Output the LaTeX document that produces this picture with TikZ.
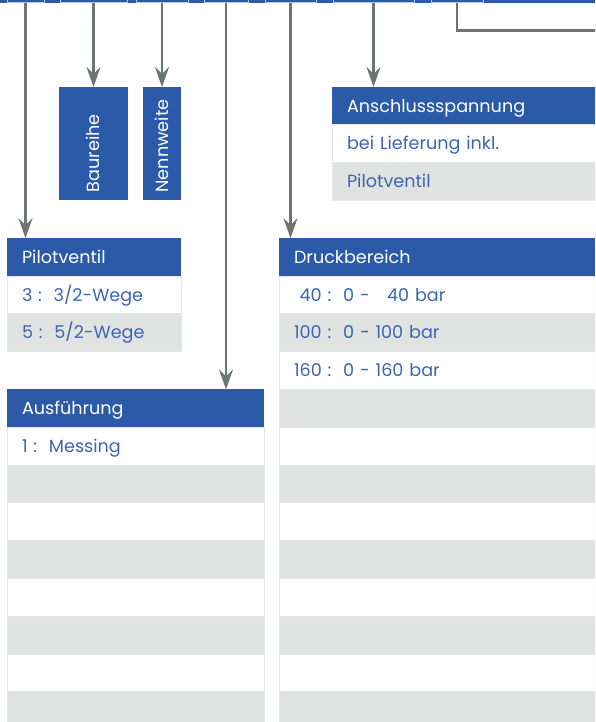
\documentclass[tikz,border=0pt]{standalone}
\usepackage{fontspec}
\setmainfont{Poppins}
\usepackage{tikz}
\usetikzlibrary{positioning, arrows.meta}
\definecolor{kblue}{HTML}{2A5AA8}
\definecolor{kgray}{HTML}{E1E2E2}
\definecolor{kline}{HTML}{6D7476}
\definecolor{ktext}{HTML}{3D66B0}
\definecolor{kedge}{HTML}{E6E7E7}

\begin{document}
\begin{tikzpicture}[x=1pt, y=-1pt,
    key/.style={fill=kblue, draw=white!65!kblue, line width=1pt, minimum height=14pt, inner sep=0pt, anchor=south},
    head/.style={fill=kblue, text=white, anchor=north west, minimum height=37.8pt, inner xsep=15pt, inner ysep=0pt, outer sep=0pt,
        text width=#1, align=left, text height=12.4pt, text depth=0pt, font=\fontsize{17.6}{19}\selectfont},
    row/.style={draw=kedge, line width=1pt, text=ktext, anchor=north west, minimum height=37.8pt, inner xsep=15pt, inner ysep=0pt,
        outer sep=0pt, text width=#1, align=left, text height=12.4pt, text depth=0pt, font=\fontsize{17.6}{19}\selectfont},
    vbox/.style={fill=kblue, text=white, rotate=90, inner xsep=8pt, inner ysep=0pt, outer sep=0pt, minimum height=#1,
        text width=97.4pt, align=left, text height=12.4pt, text depth=0pt, font=\fontsize{17.6}{19}\selectfont},
    conn/.style={draw=kline, line width=2.6pt, -{Stealth[length=20pt, width=14pt, inset=7pt]}},
]
    \useasboundingbox (0,0) rectangle (595,722);
    \clip (0,0) rectangle (595,722);

    % key strip
    \fill[kblue] (0,-5) rectangle (595,3.5);
    \node[key, minimum width=37pt] (k1) at (25.5,3) {};
    \node[key, minimum width=67pt] (k2) at (93.5,3) {};
    \node[key, minimum width=52pt] (k3) at (162,3) {};
    \node[key, minimum width=44pt] (k4) at (226,3) {};
    \node[key, minimum width=51pt] (k5) at (290.5,3) {};
    \node[key, minimum width=81pt] (k6) at (373.5,3) {};
    \node[key, minimum width=52pt] (k7) at (457,3) {};

    % Baureihe, Nennweite
    \node[vbox=69pt, minimum width=113.4pt] (bau) at (93.5,143.7) {Baureihe};
    \node[vbox=38pt, minimum width=113.4pt] (nen) at (162,143.7) {Nennweite};

    % Anschlussspannung
    \node[head=238pt] (an0) at (332,87) {Anschlussspannung};
    \node[row=238pt, fill=white] (an1) at (an0.south west) {bei Lieferung inkl.};
    \node[row=238pt, fill=kgray] (an2) at (an1.south west) {Pilotventil};

    % Pilotventil
    \node[head=144pt] (pil0) at (7,238.2) {Pilotventil};
    \node[row=144pt, fill=white] (pil1) at (pil0.south west) {3 :\ \ 3/2-Wege};
    \node[row=144pt, fill=kgray] (pil2) at (pil1.south west) {5 :\ \ 5/2-Wege};

    % Druckbereich
    \node[head=286pt] (dr0) at (279,238.2) {Druckbereich};
    \foreach \i/\c/\t [count=\j from 0] in {1/white/{\hphantom{1}40 :\ \ 0 -\ \ \hphantom{1}40 bar},
            2/kgray/{100 :\ \ 0 - 100 bar}, 3/white/{160 :\ \ 0 - 160 bar},
            4/kgray/{}, 5/white/{}, 6/kgray/{}, 7/white/{}, 8/kgray/{},
            9/white/{}, 10/kgray/{}, 11/white/{}, 12/kgray/{}}
        \node[row=286pt, fill=\c] (dr\i) at (dr\j.south west) {\t};

    % Ausfuehrung
    \node[head=227pt] (au0) at (7,389.4) {Ausführung};
    \foreach \i/\c/\t [count=\j from 0] in {1/white/{1 :\ \ Messing},
            2/kgray/{}, 3/white/{}, 4/kgray/{}, 5/white/{}, 6/kgray/{}, 7/white/{}, 8/kgray/{}}
        \node[row=227pt, fill=\c] (au\i) at (au\j.south west) {\t};

    % connectors
    \coordinate (k7end) at (600,30.5);
    \draw[conn] (k1.south) -- (k1.south |- pil0.north);
    \draw[conn] (k2.south) -- (k2.south |- bau.east);
    \draw[conn] (k3.south) -- (k3.south |- nen.east);
    \draw[conn] (k4.south) -- (k4.south |- au0.north);
    \draw[conn] (k5.south) -- (k5.south |- dr0.north);
    \draw[conn] (k6.south) -- (k6.south |- an0.north);
    \draw[conn, -] (k7.south) |- (k7end);
\end{tikzpicture}
\end{document}
